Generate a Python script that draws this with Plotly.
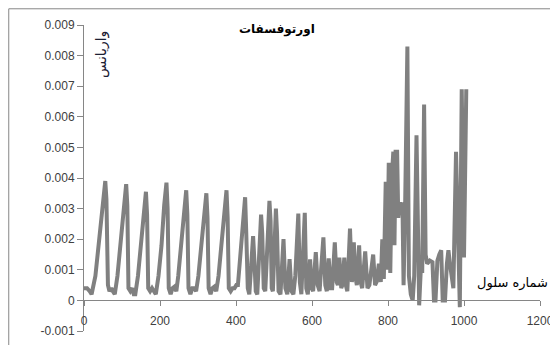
import plotly.graph_objects as go

# ---- data ----
cell_number = [
    0, 8, 15, 20, 30, 40, 48, 53, 56, 59, 63, 67, 72, 76, 81,
    88, 96, 104, 109, 111, 114, 117, 122, 127, 131, 135,
    142, 150, 157, 161, 163, 166, 169, 174, 179, 184, 189,
    196, 204, 211, 215, 217, 220, 223, 228, 233, 238, 243,
    248, 256, 263, 267, 269, 272, 275, 280, 285, 290, 295,
    301, 309, 316, 320, 322, 325, 328, 333, 338, 343, 348,
    354, 362, 369, 373, 375, 378, 381, 386, 391, 396, 401, 405,
    410, 416, 421, 424, 427, 431, 435,
    440, 445, 448, 452, 456,
    461, 466, 469, 473, 477,
    482, 488, 491, 494, 497,
    501, 505, 508, 512, 517,
    525, 530, 535, 541, 546, 551, 556, 564, 568, 572, 576, 581, 585, 589,
    595, 599, 603, 610, 615, 620, 625, 630, 635, 639, 644, 649, 653, 660,
    665, 668, 672, 677, 680, 685, 689, 693, 700, 705, 710, 714, 718, 724,
    728, 732, 740, 746, 751, 756, 761, 766, 770, 776, 781, 785, 789, 794,
    798, 802, 806, 810, 814, 817, 820, 824, 827, 831, 835, 838, 841, 845,
    851, 855, 860, 865, 869, 875, 879, 882, 887, 890, 895, 899, 903, 910,
    917, 921, 925, 930, 935, 940, 944, 950, 955, 959, 963, 967, 972, 979,
    985, 989, 994, 1000, 1006,
]
variance = [
    0.0004, 0.0004, 0.0003, 0.0002, 0.0008, 0.0020, 0.0031, 0.0038, 0.0039, 0.0033, 0.0005, 0.0003, 0.0004, 0.0003, 0.0002,
    0.0008, 0.0018, 0.0030, 0.0037, 0.0038, 0.0031, 0.0004, 0.0003, 0.0004, 0.0002, 0.0002,
    0.0008, 0.0018, 0.0029, 0.0035, 0.00355, 0.0028, 0.0004, 0.0003, 0.0004, 0.0003, 0.0002,
    0.0008, 0.0018, 0.0031, 0.0038, 0.00385, 0.0030, 0.0004, 0.0002, 0.0004, 0.00045, 0.0003,
    0.0008, 0.0018, 0.0029, 0.0035, 0.0036, 0.0028, 0.0004, 0.0002, 0.0004, 0.0004, 0.0003,
    0.0008, 0.0018, 0.0029, 0.0034, 0.0035, 0.0027, 0.0004, 0.0002, 0.0004, 0.00045, 0.0003,
    0.0008, 0.0018, 0.0029, 0.0035, 0.0036, 0.0027, 0.0004, 0.0003, 0.0004, 0.0004, 0.0005, 0.0005,
    0.0012, 0.0022, 0.0031, 0.00337, 0.0022, 0.0004, 0.0002,
    0.0010, 0.0021, 0.0014, 0.0003, 0.0002,
    0.0014, 0.0028, 0.0022, 0.0004, 0.0003,
    0.0016, 0.00325, 0.0026, 0.0004, 0.0003,
    0.0016, 0.0030, 0.0022, 0.0003, 0.0002,
    0.0020, 0.0004, 0.0002, 0.00135, 0.0003, 0.0002, 0.0008, 0.00284, 0.0006, 0.0002, 0.0012, 0.00286, 0.0004, 0.0002,
    0.00134, 0.0004, 0.0003, 0.00158, 0.0005, 0.0003, 0.0012, 0.00206, 0.0005, 0.0003, 0.00137, 0.0004, 0.0004, 0.0019,
    0.0006, 0.0005, 0.0014, 0.0004, 0.0005, 0.0014, 0.0005, 0.0003, 0.00235, 0.0006, 0.0019, 0.0008, 0.0005, 0.0018,
    0.0006, 0.0004, 0.0016, 0.0004, 0.0005, 0.0010, 0.0015, 0.0005, 0.0006, 0.0012, 0.0006, 0.0020, 0.0007, 0.00388,
    0.0010, 0.0045, 0.0009, 0.0040, 0.00486, 0.0018, 0.00486, 0.00486, 0.0027, 0.0032, 0.0030, 0.0032, 0.0005, 0.0030,
    0.0083, 0.0008, 0.0002, 0.0000, 0.0008, 0.0054, 0.0005, -0.00016, 0.0012, 0.0009, 0.0064, 0.0015, 0.0012, 0.0013,
    0.00125, 0.0000, 0.0000, 0.0013, 0.0015, 0.00164, 0.0000, 0.0000, 0.0012, 0.00164, 0.0012, 0.0008, 0.0004, 0.00486,
    0.0011, -0.00022, 0.0069, 0.0014, 0.0069,
]

y_tick_values = [-0.001, 0, 0.001, 0.002, 0.003, 0.004, 0.005, 0.006, 0.007, 0.008, 0.009]
y_tick_labels = ["-0.001", "0", "0.001", "0.002", "0.003", "0.004", "0.005", "0.006", "0.007", "0.008", "0.009"]
x_tick_values = [0, 200, 400, 600, 800, 1000, 1200]
x_tick_labels = ["0", "200", "400", "600", "800", "1000", "1200"]

chart_title = "اورتوفسفات"
y_title = "واریانس"
x_title = "شماره سلول"

x_range = [0, 1200]
y_range = [-0.001, 0.009]

AXIS_COLOR = "#868686"
TICK_FONT = dict(family="Liberation Sans, Arial, sans-serif", size=12, color="#404040")
ARABIC_FONT = "DejaVu Sans, Noto Sans, sans-serif"

fig = go.Figure()
fig.add_trace(go.Scatter(
    x=cell_number, y=variance, mode="lines",
    line=dict(color="#808080", width=4),
    showlegend=False, hoverinfo="skip",
))

# x axis sits on y = 0, as in the original spreadsheet chart
zero_pos = (0 - y_range[0]) / (y_range[1] - y_range[0])

# the page body adds an 8px offset, so the figure is 8px smaller than the window
fig.update_layout(
    width=550, height=337,
    margin=dict(l=76, r=18, t=17, b=14),
    paper_bgcolor="white", plot_bgcolor="white",
    xaxis=dict(
        range=x_range, tickvals=x_tick_values, ticktext=x_tick_labels,
        showgrid=False, zeroline=False, showline=True, linecolor=AXIS_COLOR, linewidth=1,
        ticks="outside", ticklen=5, tickcolor=AXIS_COLOR, tickfont=TICK_FONT,
        anchor="free", position=zero_pos, ticklabelstandoff=4, automargin=False,
    ),
    yaxis=dict(
        range=y_range, tickvals=y_tick_values, ticktext=y_tick_labels,
        showgrid=False, zeroline=False, showline=True, linecolor=AXIS_COLOR, linewidth=1,
        ticks="outside", ticklen=6, tickcolor=AXIS_COLOR, tickfont=TICK_FONT,
        domain=[0, 1], automargin=False,
    ),
    shapes=[
        dict(type="line", xref="paper", yref="paper", x0=-0.165, x1=1.1, y0=1.053, y1=1.053,
             line=dict(color=AXIS_COLOR, width=1)),
        dict(type="line", xref="paper", yref="paper", x0=-0.165, x1=-0.165, y0=-0.1, y1=1.053,
             line=dict(color=AXIS_COLOR, width=1)),
    ],
    annotations=[
        dict(text="<b>" + chart_title + "</b>", xref="paper", yref="paper", x=0.423, y=0.984,
             xanchor="center", yanchor="middle",
             showarrow=False, font=dict(family=ARABIC_FONT, size=12, color="black")),
        dict(text=y_title, xref="paper", yref="paper", x=0.037, y=0.905, textangle=-90,
             xanchor="center", yanchor="middle",
             showarrow=False, font=dict(family=ARABIC_FONT, size=14, color="#1c2033")),
        dict(text=x_title, xref="paper", yref="paper", x=0.939, y=0.156,
             xanchor="center", yanchor="middle",
             showarrow=False, font=dict(family=ARABIC_FONT, size=13, color="black")),
    ],
)

fig.write_html("out.html")
